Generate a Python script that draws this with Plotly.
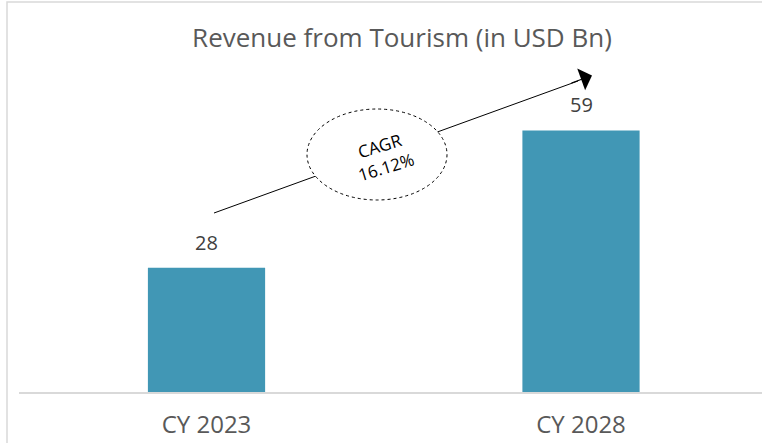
import plotly.graph_objects as go

categories = ["CY 2023", "CY 2028"]
revenue = [28, 59]
value_labels = ["28", "59"]
title_text = "Revenue from Tourism (in USD Bn)"
cagr_text = "CAGR<br>16.12%"

W, H = 762, 443
L, R, T, B = 19, 0, 40, 51
PW, PH = W - L - R, H - T - B
FONT = "Open Sans"


def px(x):
    return (x - L) / PW


def py(y):
    return (H - B - y) / PH


fig = go.Figure()
fig.add_trace(go.Bar(
    x=[0, 1], y=revenue, width=0.313,
    marker=dict(color="#4197b5", line=dict(width=0)),
    hoverinfo="skip",
))

for i, (v, t) in enumerate(zip(revenue, value_labels)):
    fig.add_annotation(x=i, y=v, text=t, showarrow=False, xanchor="center", yanchor="bottom", yshift=10,
                       font=dict(size=20, color="#404040", family=FONT))

shapes = [
    # outer border
    dict(type="rect", xref="paper", yref="paper", x0=px(7), x1=px(790), y0=py(470), y1=py(2),
         line=dict(color="#d9d9d9", width=1.5), fillcolor="rgba(0,0,0,0)", layer="below"),
    # trend line
    dict(type="line", xref="paper", yref="paper", x0=px(214), y0=py(213), x1=px(578), y1=py(81),
         line=dict(color="#000000", width=1)),
    # ellipse
    dict(type="circle", xref="paper", yref="paper", x0=px(307), x1=px(447), y0=py(200), y1=py(109),
         line=dict(color="#000000", width=1, dash="dot"), fillcolor="#ffffff"),
]
fig.update_layout(shapes=shapes)

# arrow head
fig.add_annotation(xref="paper", yref="paper", x=px(592), y=py(75.5), ax=-22, ay=8,
                   axref="pixel", ayref="pixel", text="", showarrow=True,
                   arrowhead=1, arrowsize=3.2, arrowwidth=1.2, arrowcolor="#000000")

fig.add_annotation(xref="paper", yref="paper", x=px(382), y=py(156), text=cagr_text,
                   showarrow=False, textangle=-17, align="center",
                   xanchor="center", yanchor="middle",
                   font=dict(size=17, color="#000000", family=FONT))

fig.update_layout(
    width=W, height=H,
    margin=dict(l=L, r=R, t=T, b=B),
    paper_bgcolor="#ffffff", plot_bgcolor="#ffffff",
    showlegend=False,
    title=dict(text=title_text, x=402 / W, xref="container", xanchor="center",
               y=1 - 38 / H, yref="container", yanchor="middle",
               font=dict(size=26, color="#595959", family=FONT)),
    xaxis=dict(tickmode="array", tickvals=[0, 1], ticktext=categories,
               range=[-0.5007, 1.4833], showgrid=False, zeroline=False,
               showline=True, linecolor="#d9d9d9", linewidth=1.5,
               ticks="", ticklabelstandoff=10,
               tickfont=dict(size=24, color="#595959", family=FONT)),
    yaxis=dict(range=[0, 79.4], visible=False, showgrid=False, zeroline=False),
)

fig.write_html("out.html", config={"displayModeBar": False},
               post_script="document.body.style.margin='0';")
